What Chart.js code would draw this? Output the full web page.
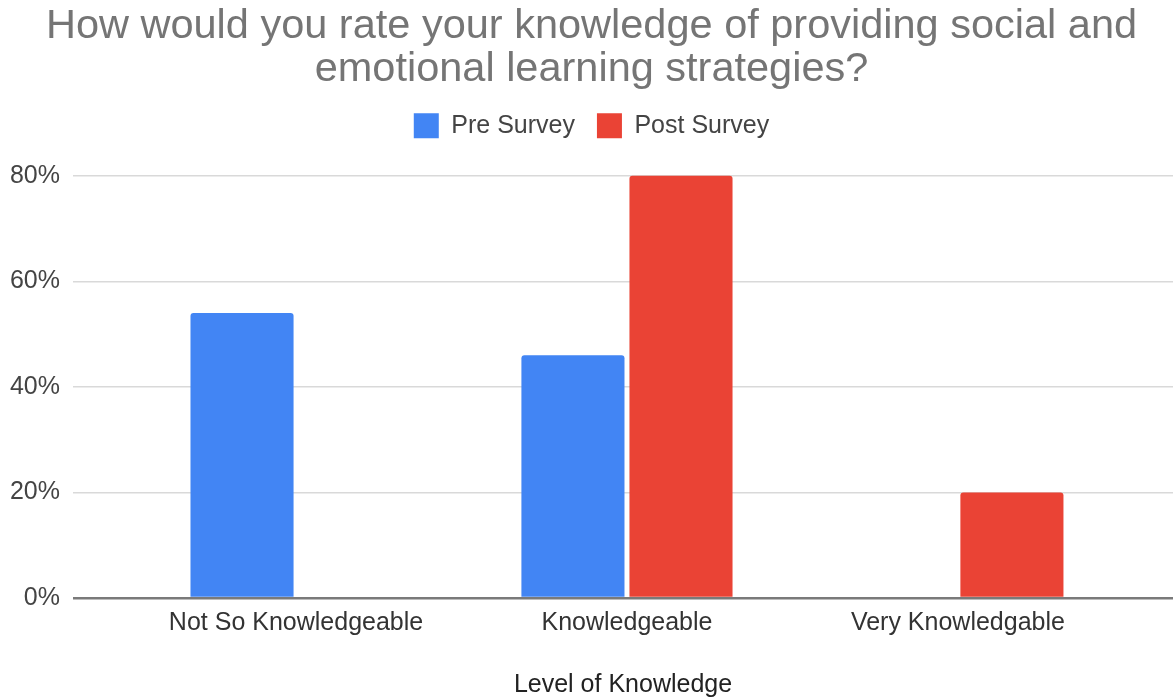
<!DOCTYPE html>
<html>
<head>
<meta charset="utf-8">
<script src="https://cdn.jsdelivr.net/npm/chart.js@4/dist/chart.umd.min.js"></script>
<style>
  html, body { margin: 0; padding: 0; background: #fff; }
  canvas { display: block; }
</style>
</head>
<body>
<canvas id="chart" width="1173" height="700"></canvas>
<script>
// Chart data
var categories = ['Not So Knowledgeable', 'Knowledgeable', 'Very Knowledgable'];
var preSurvey = [54, 46, 0];
var postSurvey = [0, 80, 20];
var yTicks = [0, 20, 40, 60, 80];

var FONT = '"Liberation Sans", Arial, sans-serif';

function toPoints(values) {
    return values.map(function(v, i) { return {x: i, y: v}; });
}

var ctx = document.getElementById('chart').getContext('2d');

new Chart(ctx, {
    type: 'bar',
    data: {
        datasets: [{
            label: 'Pre Survey',
            data: toPoints(preSurvey),
            backgroundColor: '#4285f4',
            borderRadius: 3,
            categoryPercentage: 0.653,
            barPercentage: 0.954
        }, {
            label: 'Post Survey',
            data: toPoints(postSurvey),
            backgroundColor: '#ea4335',
            borderRadius: 3,
            categoryPercentage: 0.653,
            barPercentage: 0.954
        }]
    },
    options: {
        responsive: false,
        devicePixelRatio: 1,
        animation: false,
        layout: {
            padding: {left: 10, right: 0, top: 0, bottom: 0}
        },
        plugins: {
            title: {
                display: true,
                text: ['How would you rate your knowledge of providing social and',
                       'emotional learning strategies?'],
                color: '#757575',
                font: {family: FONT, size: 41.5, weight: 'normal', lineHeight: 1.04},
                padding: {top: 5, bottom: 0}
            },
            legend: {
                display: true,
                labels: {
                    boxWidth: 25,
                    boxHeight: 25,
                    padding: 22,
                    color: '#444',
                    font: {family: FONT, size: 25}
                }
            },
            tooltip: {enabled: false}
        },
        scales: {
            x: {
                type: 'linear',
                offset: false,
                min: -0.674,
                max: 2.65,
                grid: {display: false, drawTicks: false, offset: false},
                border: {display: false},
                afterBuildTicks: function(scale) {
                    scale.ticks = categories.map(function(c, i) { return {value: i}; });
                },
                ticks: {
                    autoSkip: false,
                    maxRotation: 0,
                    padding: 10,
                    color: '#333',
                    font: {family: FONT, size: 25},
                    callback: function(value) { return categories[value]; }
                },
                title: {
                    display: true,
                    text: 'Level of Knowledge',
                    color: '#222',
                    font: {family: FONT, size: 25},
                    padding: {top: 22, bottom: 0}
                }
            },
            y: {
                min: 0,
                max: 85.2,
                border: {display: false},
                afterBuildTicks: function(scale) {
                    scale.ticks = yTicks.map(function(v) { return {value: v}; });
                },
                // labels from x=10 to 60, grid starts at 73
                afterFit: function(scale) {
                    scale.width = 63;
                },
                grid: {
                    drawTicks: false,
                    color: function(c) { return c.tick && c.tick.value === 0 ? '#7a7a7a' : '#d9d9d9'; },
                    lineWidth: function(c) { return c.tick && c.tick.value === 0 ? 2.5 : 1.5; }
                },
                ticks: {
                    padding: 13,
                    color: '#444',
                    font: {family: FONT, size: 25},
                    callback: function(value) { return value + '%'; }
                }
            }
        }
    }
});
</script>
</body>
</html>
